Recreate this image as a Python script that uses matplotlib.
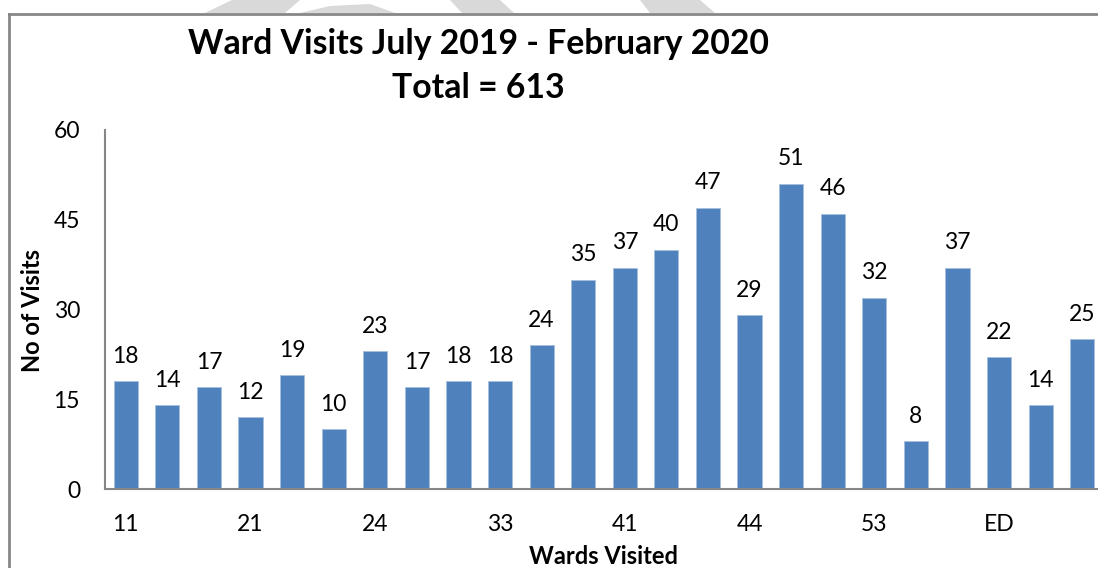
import matplotlib
matplotlib.use("Agg")
import matplotlib.pyplot as plt
from matplotlib.patches import Polygon
from matplotlib.lines import Line2D

plt.rcParams['font.family'] = ['Lato', 'DejaVu Sans']

# Ward visit counts, one bar per ward
wards = ["11", "", "", "21", "", "", "24", "", "", "33", "", "", "41", "", "",
         "44", "", "", "53", "", "", "ED", "", ""]
visits = [18, 14, 17, 12, 19, 10, 23, 17, 18, 18, 24, 35, 37, 40, 47, 29,
          51, 46, 32, 8, 37, 22, 14, 25]
y_ticks = [0, 15, 30, 45, 60]
title_lines = ["Ward Visits July 2019 - February 2020", "Total = 613"]

W, H = 1098, 568
fig = plt.figure(figsize=(W / 100, H / 100), dpi=100)
fig.patch.set_facecolor("white")

# faint background shapes peeking above the frame
wm = "#d9d9d9"
for pts in [
    [(205, 13), (232, 0), (300, 0), (285, 13)],
    [(300, 13), (330, 6), (370, 4), (395, 13)],
    [(450, 0), (500, 0), (514, 13), (462, 13)],
    [(640, 0), (700, 0), (715, 13), (650, 13)],
]:
    fig.patches.append(Polygon([(x / W, 1 - y / H) for x, y in pts],
                               closed=True, transform=fig.transFigure,
                               facecolor=wm, edgecolor="none", zorder=0))

# frame around the chart area
frame_c = "#878787"
fig.add_artist(Line2D([8.5 / W, 8.5 / W], [0, 1 - 13.5 / H], color=frame_c,
                      lw=2.0, transform=fig.transFigure))
fig.add_artist(Line2D([8.5 / W, 1.0], [1 - 13.5 / H, 1 - 13.5 / H], color=frame_c,
                      lw=2.0, transform=fig.transFigure))

left, right, bottom, top = 105 / W, 1103 / W, 1 - 489 / H, 1 - 130 / H
ax = fig.add_axes([left, bottom, right - left, top - bottom])
ax.set_facecolor("none")

x = list(range(len(visits)))
bars = ax.bar(x, visits, width=0.58, color="#4F81BD", edgecolor="#A7C0DE",
              linewidth=0.6, zorder=2)
for xi, v in zip(x, visits):
    ax.annotate(str(v), (xi, v), xytext=(0, 10.5), textcoords="offset points",
                ha="center", va="bottom", fontsize=16.5, color="black")

ax.set_xlim(-0.5, len(visits) - 0.5)
ax.set_ylim(0, 60)
ax.set_yticks(y_ticks)
ax.set_yticklabels([str(t) for t in y_ticks], fontsize=16.5)
ax.set_xticks(x)
ax.set_xticklabels(wards, fontsize=16.5)
ax.tick_params(axis="both", length=0)
ax.tick_params(axis="y", pad=18)
ax.tick_params(axis="x", pad=18)

for s in ["top", "right"]:
    ax.spines[s].set_visible(False)
for s in ["left", "bottom"]:
    ax.spines[s].set_color("#868686")
    ax.spines[s].set_linewidth(1.5)

fig.text(33 / W, 1 - 311 / H, "No of Visits", rotation=90, ha="center",
         va="center", fontsize=17, fontweight="bold")
fig.text(603 / W, 1 - 557 / H, "Wards Visited", ha="center", va="center",
         fontsize=17, fontweight="bold")

fig.text(478 / W, 1 - 44 / H, title_lines[0], ha="center", va="center",
         fontsize=24.3, fontweight="bold")
fig.text(478 / W, 1 - 88 / H, title_lines[1], ha="center", va="center",
         fontsize=24.3, fontweight="bold")

fig.savefig("out.png", dpi=100, facecolor="white")
